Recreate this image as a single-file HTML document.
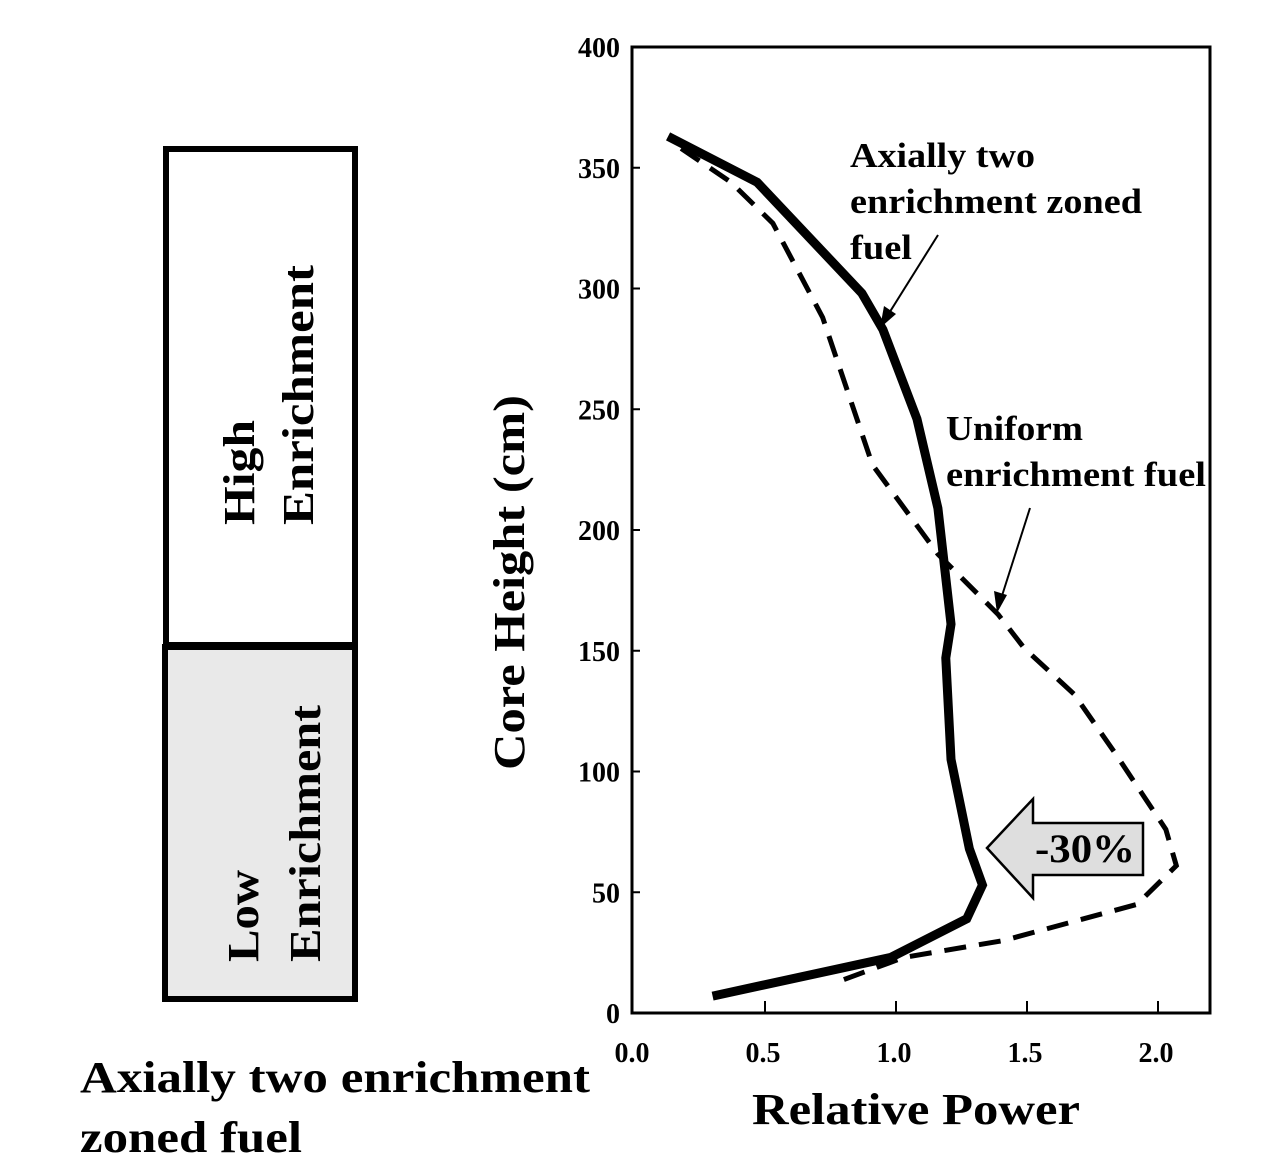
<!DOCTYPE html>
<html><head><meta charset="utf-8"><style>
body{margin:0;background:#fff;}
svg{display:block;font-family:"Liberation Serif",serif;font-weight:bold;}
</style></head><body>
<svg width="1288" height="1172" viewBox="0 0 1288 1172">
<g>
<rect x="166" y="149" width="189" height="496" fill="#fff" stroke="#000" stroke-width="6"/>
<rect x="165" y="647" width="190" height="352" fill="#e9e9e9" stroke="#000" stroke-width="6"/>
<text transform="translate(254,525) rotate(-90)" font-size="44" textLength="105" lengthAdjust="spacingAndGlyphs">High</text>
<text transform="translate(313,525) rotate(-90)" font-size="44" textLength="260" lengthAdjust="spacingAndGlyphs">Enrichment</text>
<text transform="translate(258,962) rotate(-90)" font-size="44" textLength="92" lengthAdjust="spacingAndGlyphs">Low</text>
<text transform="translate(320,962) rotate(-90)" font-size="44" textLength="257" lengthAdjust="spacingAndGlyphs">Enrichment</text>
<text x="80" y="1092" font-size="44" textLength="510" lengthAdjust="spacingAndGlyphs">Axially two enrichment</text>
<text x="80" y="1152" font-size="44" textLength="222" lengthAdjust="spacingAndGlyphs">zoned fuel</text>
</g>
<g id="chart"></g>
</svg>
<script>
const yTicks=[0,50,100,150,200,250,300,350,400];
const xTicks=[0.0,0.5,1.0,1.5,2.0];
const zonedX=[0.13,0.47,0.87,0.95,1.08,1.16,1.21,1.19,1.21,1.28,1.33,1.27,0.98,0.30];
const zonedY=[363,344,298,283,246,209,161,147,105,68,53,39,23,7];
const uniformX=[0.18,0.37,0.53,0.72,0.91,1.16,1.39,1.49,1.68,1.84,2.03,2.07,1.92,1.41,1.03,0.78];
const uniformY=[358,344,327,288,227,190,165,151,132,107,76,61,45,30,23,13];
const NS='http://www.w3.org/2000/svg';
const X0=632,Y0=1013,R=1210,T=47;
function xs(v){return 634+v*262;}
function ys(v){return Y0-v*(Y0-T)/400;}
const g=document.getElementById('chart');
function mk(tag,attrs,parent){const e=document.createElementNS(NS,tag);for(const k in attrs)e.setAttribute(k,attrs[k]);(parent||g).appendChild(e);return e;}
let frame=mk('rect',{x:X0,y:T,width:R-X0,height:Y0-T,fill:'none',stroke:'#000','stroke-width':3});


yTicks.forEach(v=>{
 let t=mk('text',{x:620,y:ys(v)+10,'font-size':28,'text-anchor':'end'});t.textContent=v;
 
 
 let l=mk('line',{x1:X0,x2:X0+8,y1:ys(v),y2:ys(v),stroke:'#000','stroke-width':2});
 
 
});
xTicks.forEach(v=>{
 let t=mk('text',{x:xs(v)-2,y:1062,'font-size':28,'text-anchor':'middle'});t.textContent=v.toFixed(1);
 
 
 if(v>0){let l=mk('line',{x1:xs(v),x2:xs(v),y1:Y0,y2:Y0-12,stroke:'#000','stroke-width':2});
 
 }
});
let yt=mk('text',{transform:'translate(522,396) rotate(-90)','font-size':44,textLength:375,lengthAdjust:'spacingAndGlyphs','text-anchor':'end'});yt.textContent='Core Height (cm)';
yt.setAttribute('transform','translate(524,770) rotate(-90)');
yt.setAttribute('text-anchor','start');


let xt=mk('text',{x:752,y:1124,'font-size':44,textLength:328,lengthAdjust:'spacingAndGlyphs'});xt.textContent='Relative Power';


function pts(a,b){return a.map((x,i)=>xs(x)+','+ys(b[i])).join(' ');}
let u=mk('polyline',{points:pts(uniformX,uniformY),fill:'none',stroke:'#000','stroke-width':5,'stroke-dasharray':'22,13'});


let z=mk('polyline',{points:pts(zonedX,zonedY),fill:'none',stroke:'#000','stroke-width':9,'stroke-linejoin':'miter'});


let ar=mk('polygon',{points:'987,848 1033,799 1033,823 1143,823 1143,875 1033,875 1033,898',fill:'#dedede',stroke:'#000','stroke-width':2.5});


let at=mk('text',{x:1035,y:862,'font-size':40,textLength:100,lengthAdjust:'spacingAndGlyphs'});at.textContent='-30%';


[['Axially two',850,167,185],['enrichment zoned',850,213,292],['fuel',850,259,62]].forEach(a=>{
 let t=mk('text',{x:a[1],y:a[2],'font-size':35,textLength:a[3],lengthAdjust:'spacingAndGlyphs'});t.textContent=a[0];
 
 
});
[['Uniform',946,440,137],['enrichment fuel',946,486,260]].forEach(a=>{
 let t=mk('text',{x:a[1],y:a[2],'font-size':35,textLength:a[3],lengthAdjust:'spacingAndGlyphs'});t.textContent=a[0];
 
 
});
let l1=mk('line',{x1:938,y1:235,x2:886,y2:318,stroke:'#000','stroke-width':2});


let h1=mk('polygon',{points:'880,328 884,306 896,314',fill:'#000'});


let l2=mk('line',{x1:1030,y1:508,x2:1000,y2:602,stroke:'#000','stroke-width':2});


let h2=mk('polygon',{points:'997,613 994,591 1007,595',fill:'#000'});


</script>
</body></html>
